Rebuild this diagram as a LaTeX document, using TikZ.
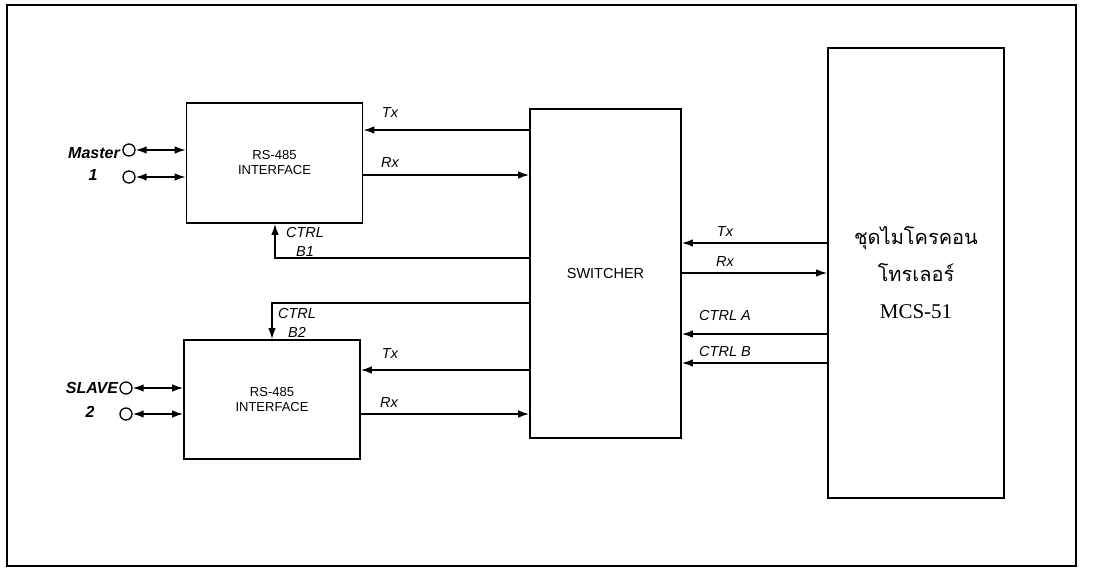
\documentclass[tikz,border=0pt]{standalone}
\usepackage{fontspec}
\setmainfont{Liberation Sans}
\newfontfamily\thaifont[Script=Thai]{Loma}
\newfontfamily\romanfont{Liberation Serif}
\usetikzlibrary{arrows.meta,positioning,calc}

\begin{document}
\begin{tikzpicture}[x=1pt,y=-1pt,line width=1.6pt,
    blk/.style={draw, minimum width=176pt, inner sep=0pt, align=center},
    sig/.style={-{Latex[length=11pt,width=7.5pt]}},
    bisig/.style={{Latex[length=11pt,width=7.5pt]}-{Latex[length=11pt,width=7.5pt]}},
    port/.style={draw, circle, minimum size=12pt, inner sep=0pt, line width=1.3pt},
    lbl/.style={font=\fontsize{14.5}{15}\selectfont\itshape},
    tag/.style={font=\fontsize{16}{17}\selectfont\bfseries\itshape}]
    \useasboundingbox (0,0) rectangle (1095,570);
    \draw[line width=1.8pt] (7,5) rectangle (1076,566);

    % blocks
    \node[blk, minimum height=120pt, font=\fontsize{13}{15}\selectfont] (rs1) at (274.5,163) {RS-485\\INTERFACE};
    \node[blk, minimum height=119pt, font=\fontsize{13}{15}\selectfont] (rs2) at (272,399.5) {RS-485\\INTERFACE};
    \node[blk, minimum width=151pt, minimum height=329pt, font=\fontsize{14.5}{16}\selectfont] (sw) at (605.5,273.5) {SWITCHER};
    \node[blk, minimum height=450pt, font=\fontsize{20}{37}\selectfont] (mcs) at (916,273)
        {\thaifont ชุดไมโครคอน\\\thaifont โทรเลอร์\\\romanfont\fontsize{21}{37}\selectfont MCS-51};

    % master side
    \node[tag] (mtag) at (94,153) {Master};
    \node[tag] (mnum) at (93,175) {1};
    \node[port] (p1a) at (129,150) {};
    \node[port] (p1b) at (129,177) {};
    \draw[bisig] (p1a) -- (p1a -| rs1.west);
    \draw[bisig] (p1b) -- (p1b -| rs1.west);

    % slave side
    \node[tag] (stag) at (92,388) {SLAVE};
    \node[tag] (snum) at (90,412) {2};
    \node[port] (p2a) at (126,388) {};
    \node[port] (p2b) at (126,414) {};
    \draw[bisig] (p2a) -- (p2a -| rs2.west);
    \draw[bisig] (p2b) -- (p2b -| rs2.west);

    % interface <-> switcher
    \coordinate (tx1) at ([yshift=33pt]rs1.east);
    \coordinate (rx1) at ([yshift=-12pt]rs1.east);
    \coordinate (tx2) at ([yshift=29.5pt]rs2.east);
    \coordinate (rx2) at ([yshift=-14.5pt]rs2.east);
    \draw[sig] (tx1 -| sw.west) -- (tx1);
    \draw[sig] (rx1) -- (rx1 -| sw.west);
    \draw[sig] (tx2 -| sw.west) -- (tx2);
    \draw[sig] (rx2) -- (rx2 -| sw.west);
    \node[lbl] (ltx1) at (390,113) {Tx};
    \node[lbl] (lrx1) at (390,163) {Rx};
    \node[lbl] (ltx2) at (390,354) {Tx};
    \node[lbl] (lrx2) at (389,403) {Rx};

    % control lines to interfaces
    \coordinate (b1) at (275,258);
    \coordinate (b2) at (272,303);
    \draw[sig] (b1 -| sw.west) -- (b1) -- (b1 |- rs1.south);
    \draw[sig] (b2 -| sw.west) -- (b2) -- (b2 |- rs2.north);
    \node[lbl, align=center, font=\fontsize{14.5}{19}\selectfont\itshape] (lb1) at (305,242) {CTRL\\B1};
    \node[lbl, align=center, font=\fontsize{14.5}{19}\selectfont\itshape] (lb2) at (297,323) {CTRL\\B2};

    % microcontroller <-> switcher
    \coordinate (txm) at ([yshift=30pt]mcs.west);
    \coordinate (rxm) at (mcs.west);
    \coordinate (cam) at ([yshift=-61pt]mcs.west);
    \coordinate (cbm) at ([yshift=-90pt]mcs.west);
    \draw[sig] (txm) -- (txm -| sw.east);
    \draw[sig] (rxm -| sw.east) -- (rxm);
    \draw[sig] (cam) -- (cam -| sw.east);
    \draw[sig] (cbm) -- (cbm -| sw.east);
    \node[lbl] (ltxm) at (725,232) {Tx};
    \node[lbl] (lrxm) at (725,262) {Rx};
    \node[lbl] (lcam) at (725,316) {CTRL A};
    \node[lbl] (lcbm) at (725,352) {CTRL B};
\end{tikzpicture}
\end{document}
